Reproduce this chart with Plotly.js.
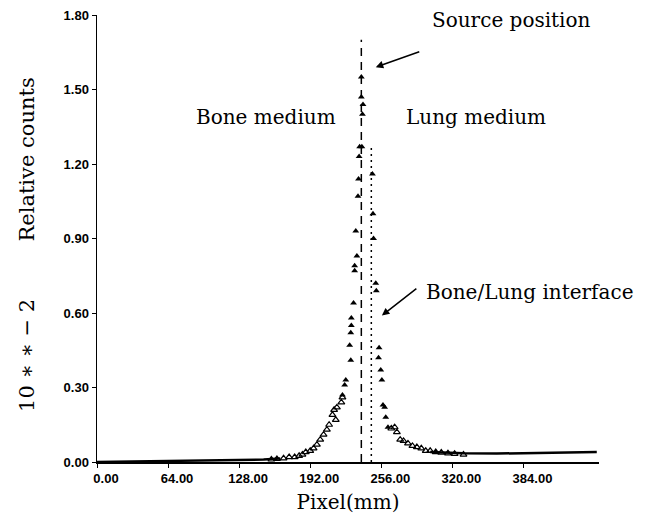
<!DOCTYPE html>
<html>
<head>
<meta charset="utf-8">
<script src="https://cdn.plot.ly/plotly-3.0.1.min.js"></script>
<style>html,body{margin:0;padding:0;background:#fff;}#chart{width:649px;height:522px;}</style>
</head>
<body>
<div id="chart"></div>
<script>
// Filled triangles (peak region)
const peakX = [238, 238, 239.5, 239, 236.5, 238.5, 236, 235.5, 235, 233, 234, 232, 232, 231, 229, 229, 228.5, 227.5, 228.5, 224, 223, 221,
               248, 248.5, 249, 251, 251.5, 254, 253.5, 255.5, 256.5, 257.5, 259, 260, 262];
const peakY = [1.55, 1.47, 1.44, 1.40, 1.27, 1.27, 1.23, 1.14, 1.07, 0.93, 0.83, 0.79, 0.77, 0.64, 0.58, 0.55, 0.52, 0.47, 0.41, 0.33, 0.31, 0.27,
               1.16, 1.00, 0.90, 0.72, 0.69, 0.46, 0.42, 0.37, 0.33, 0.23, 0.22, 0.18, 0.14];
// Open triangles (tails)
const tailX = [221, 220, 216, 213.5, 212, 215, 209, 207, 204, 201, 198, 195, 192, 188, 185, 182, 178, 173, 168, 162, 157,
               265, 268, 270, 273, 276, 280, 284, 288, 292, 296, 300, 305, 310, 316, 322, 330];
const tailY = [0.26, 0.24, 0.22, 0.21, 0.19, 0.17, 0.15, 0.13, 0.11, 0.09, 0.07, 0.055, 0.045, 0.04, 0.03, 0.025, 0.02, 0.02, 0.015, 0.012, 0.01,
               0.135, 0.14, 0.12, 0.09, 0.085, 0.075, 0.065, 0.06, 0.055, 0.045, 0.045, 0.04, 0.038, 0.035, 0.033, 0.03];
// Baseline background counts
const baseX = [0, 40, 80, 120, 150, 165, null, 300, 330, 360, 390, 420, 450];
const baseY = [0.0, 0.002, 0.004, 0.007, 0.01, 0.014, null, 0.04, 0.035, 0.034, 0.035, 0.037, 0.04];
// Reference lines
const sourceX = 238, sourceTop = 1.70;
const interfaceX = 247, interfaceTop = 1.28;
// Ticks
const xTickVals = [0, 64, 128, 192, 256, 320, 384];
const xTickText = ["0.00", "64.00", "128.00", "192.00", "256.00", "320.00", "384.00"];
const yTickVals = [0, 0.3, 0.6, 0.9, 1.2, 1.5, 1.8];
const yTickText = ["0.00", "0.30", "0.60", "0.90", "1.20", "1.50", "1.80"];

const serif = "DejaVu Serif";
const sans = "Liberation Sans, Arial, sans-serif";
const traces = [
  {x: baseX, y: baseY, mode: "lines", line: {color: "#000", width: 2.5}, hoverinfo: "skip"},
  {x: [sourceX, sourceX], y: [0, sourceTop], mode: "lines", line: {color: "#000", width: 1.5, dash: "8px,6px"}},
  {x: [interfaceX, interfaceX], y: [0, interfaceTop], mode: "lines", line: {color: "#000", width: 1.5, dash: "2px,4px"}},
  {x: tailX, y: tailY, mode: "markers", marker: {symbol: "triangle-up-open", size: 6, color: "#000", line: {width: 1.2, color: "#000"}}},
  {x: peakX, y: peakY, mode: "markers", marker: {symbol: "triangle-up", size: 6, color: "#000"}}
];
const layout = {
  width: 649, height: 522,
  margin: {l: 97, r: 50, t: 15, b: 60},
  paper_bgcolor: "#fff", plot_bgcolor: "#fff",
  showlegend: false,
  font: {family: sans, size: 13, color: "#000"},
  xaxis: {range: [0, 452], showgrid: false, zeroline: false, showline: true, linecolor: "#000", linewidth: 1.5,
          ticks: "outside", ticklen: 4, tickcolor: "#000", tickvals: xTickVals, ticktext: xTickText, ticklabelshift: 9,
          tickfont: {family: sans, size: 13, color: "#000", weight: "bold"},
          title: {text: "Pixel(mm)", font: {family: serif, size: 20}, standoff: 10}},
  yaxis: {range: [0, 1.8001], showgrid: false, zeroline: false, showline: true, linecolor: "#000", linewidth: 1.5,
          ticks: "outside", ticklen: 4, tickcolor: "#000", tickvals: yTickVals, ticktext: yTickText,
          tickfont: {family: sans, size: 13, color: "#000", weight: "bold"}},
  annotations: [
    {xref: "paper", yref: "paper", x: -0.14, y: 0.676, text: "Relative counts", textangle: -90, showarrow: false,
     font: {family: serif, size: 21}, xanchor: "center", yanchor: "middle"},
    {xref: "paper", yref: "paper", x: -0.14, y: 0.239, text: "10 ∗ ∗ − 2", textangle: -90, showarrow: false,
     font: {family: serif, size: 21}, xanchor: "center", yanchor: "middle"},
    {x: 152.5, y: 1.39, text: "Bone medium", showarrow: false, font: {family: serif, size: 20}},
    {x: 341.5, y: 1.39, text: "Lung medium", showarrow: false, font: {family: serif, size: 20}},
    {x: 300, y: 1.78, text: "Source position", showarrow: false, xanchor: "left", font: {family: serif, size: 20}},
    {x: 294, y: 0.685, text: "Bone/Lung interface", showarrow: false, xanchor: "left", font: {family: serif, size: 20}},
    {x: 251, y: 1.59, text: "", showarrow: true, arrowhead: 2, arrowsize: 1, arrowwidth: 1.5, arrowcolor: "#000", ax: 45, ay: -16},
    {x: 256.5, y: 0.59, text: "", showarrow: true, arrowhead: 2, arrowsize: 1, arrowwidth: 1.5, arrowcolor: "#000", ax: 36, ay: -28}
  ]
};
Plotly.newPlot("chart", traces, layout, {displayModeBar: false, staticPlot: true});
</script>
</body>
</html>
